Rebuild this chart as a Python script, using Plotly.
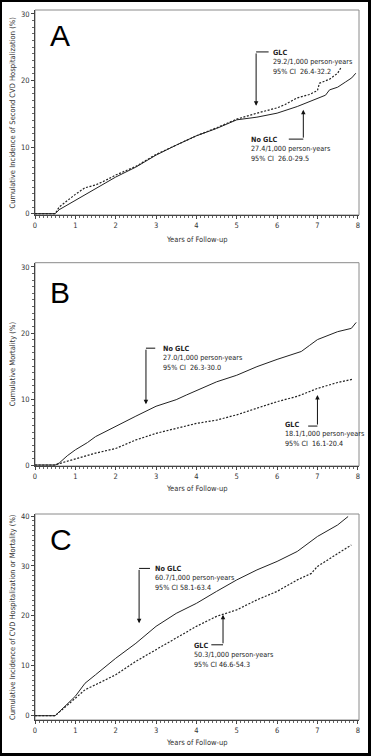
import plotly.graph_objects as go

W, H = 371, 756

# ---------------- data ----------------
A_x_glc = [0, 0.5, 0.6, 0.8, 1.0, 1.24, 1.5, 1.75, 2.0, 2.5, 3.0, 3.5, 4.0, 4.5, 5.0, 5.5, 6.0, 6.2, 6.5, 6.8, 7.0, 7.05, 7.3, 7.5, 7.58]
A_y_glc = [0, 0, 1.0, 2.0, 2.9, 3.9, 4.3, 5.0, 5.8, 7.1, 8.9, 10.3, 11.7, 12.9, 14.2, 15.1, 15.9, 16.4, 17.4, 17.9, 18.5, 19.6, 20.2, 21.1, 21.9]
A_x_noglc = [0, 0.5, 0.6, 0.8, 1.0, 1.24, 1.5, 2.0, 2.5, 3.0, 3.5, 4.0, 4.5, 5.0, 5.5, 6.0, 6.5, 7.0, 7.2, 7.3, 7.5, 7.7, 7.85, 7.95]
A_y_noglc = [0, 0, 0.6, 1.3, 2.0, 2.9, 3.8, 5.5, 7.0, 8.8, 10.3, 11.7, 12.8, 14.1, 14.5, 15.1, 16.1, 17.3, 17.8, 18.6, 19.0, 19.8, 20.4, 21.1]

B_x_noglc = [0, 0.5, 0.6, 0.8, 1.0, 1.3, 1.5, 2.0, 2.5, 3.0, 3.5, 3.75, 4.0, 4.5, 5.0, 5.5, 6.0, 6.5, 6.6, 6.8, 7.0, 7.5, 7.84, 7.96]
B_y_noglc = [0, 0, 0.3, 1.4, 2.3, 3.4, 4.3, 5.9, 7.4, 8.9, 9.9, 10.6, 11.3, 12.6, 13.6, 14.9, 16.0, 17.0, 17.2, 18.1, 19.0, 20.2, 20.7, 21.6]
B_x_glc = [0, 0.5, 0.7, 1.0, 1.5, 2.0, 2.5, 3.0, 3.5, 4.0, 4.5, 5.0, 5.5, 6.0, 6.5, 7.0, 7.5, 7.88]
B_y_glc = [0, 0, 0.4, 0.9, 1.8, 2.5, 3.8, 4.8, 5.6, 6.3, 6.8, 7.6, 8.6, 9.6, 10.4, 11.6, 12.5, 13.0]

C_x_noglc = [0, 0.5, 1.0, 1.24, 1.5, 2.0, 2.5, 3.0, 3.5, 4.0, 4.5, 5.0, 5.5, 6.0, 6.5, 7.0, 7.5, 7.76]
C_y_noglc = [0, 0, 3.9, 6.5, 8.2, 11.5, 14.5, 17.9, 20.5, 22.5, 24.9, 27.2, 29.2, 30.9, 32.9, 35.9, 38.2, 39.9]
C_x_glc = [0, 0.5, 1.0, 1.24, 1.5, 2.0, 2.5, 3.0, 3.5, 4.0, 4.5, 5.0, 5.5, 6.0, 6.5, 6.85, 7.0, 7.5, 7.84]
C_y_glc = [0, 0, 3.5, 5.2, 6.2, 8.2, 10.9, 13.2, 15.5, 17.9, 19.9, 21.2, 23.2, 24.9, 27.2, 28.5, 29.9, 32.5, 34.2]

panel_letters = ["A", "B", "C"]
y_titles = [
    "Cumulative Incidence of Second CVD Hospitalization (%)",
    "Cumulative Mortality (%)",
    "Cumulative Incidence of CVD Hospitalization or Mortality (%)",
]
x_title = "Years of Follow-up"
x_ticks = [0, 1, 2, 3, 4, 5, 6, 7, 8]
y_ticks_ab = [0, 10, 20, 30]
y_ticks_c = [0, 10, 20, 30, 40]

A_labels = {"GLC": ["GLC", "29.2/1,000 person-years", "95% CI  26.4-32.2"],
            "No GLC": ["No GLC", "27.4/1,000 person-years", "95% CI  26.0-29.5"]}
B_labels = {"GLC": ["GLC", "18.1/1,000 person-years", "95% CI  16.1-20.4"],
            "No GLC": ["No GLC", "27.0/1,000 person-years", "95% CI  26.3-30.0"]}
C_labels = {"GLC": ["GLC", "50.3/1,000 person-years", "95% CI 46.6-54.3"],
            "No GLC": ["No GLC", "60.7/1,000 person-years", "95% CI 58.1-63.4"]}

# ---------------- styling ----------------
FONT = "Liberation Sans Narrow, Arial Narrow, DejaVu Sans Condensed, Liberation Sans, Arial, sans-serif"
LINE_COL = "#222222"
FS = 7.5
FS_LAB = 7.2

fig = go.Figure()

def px_y(p):
    return (H - p) / H

def px_x(p):
    return p / W

panels = [
    dict(s="", xs=(A_x_glc, A_y_glc, A_x_noglc, A_y_noglc), yr=[-0.2, 30.6], dom=[px_y(215), px_y(10)],
         yt=y_ticks_ab, xtitle=239, labels=A_labels, letter_y=26.7,
         arrows=[("GLC", 5.48, 24.3, 16.2, 5.79, 5.84, 22.8),
                 ("No GLC", 6.65, 11.2, 15.6, 6.29, 5.30, 9.75)]),
    dict(s="2", xs=(B_x_glc, B_y_glc, B_x_noglc, B_y_noglc), yr=[-0.15, 30.65], dom=[px_y(466), px_y(262.7)],
         yt=y_ticks_ab, xtitle=489, labels=B_labels, letter_y=26.2,
         arrows=[("No GLC", 2.75, 17.7, 9.2, 2.98, 3.12, 16.2),
                 ("GLC", 7.0, 5.9, 10.6, 6.77, 6.14, 4.7)]),
    dict(s="3", xs=(C_x_glc, C_y_glc, C_x_noglc, C_y_noglc), yr=[-0.86, 40.4], dom=[px_y(720), px_y(514)],
         yt=y_ticks_c, xtitle=742, labels=C_labels, letter_y=35.3,
         arrows=[("No GLC", 2.58, 29.5, 18.5, 2.85, 2.93, 27.6),
                 ("GLC", 4.66, 14.2, 20.2, 4.37, 3.89, 12.2)]),
]

shapes = []
annotations = []
layout_axes = {}

for i, p in enumerate(panels):
    s = p["s"]
    xa, ya = "x" + s, "y" + s
    gx, gy, nx, ny = p["xs"]
    fig.add_trace(go.Scatter(x=nx, y=ny, mode="lines", xaxis=xa, yaxis=ya,
                             line=dict(color=LINE_COL, width=1), showlegend=False, hoverinfo="skip"))
    fig.add_trace(go.Scatter(x=gx, y=gy, mode="lines", xaxis=xa, yaxis=ya,
                             line=dict(color=LINE_COL, width=1.2, dash="2px,1.6px"), showlegend=False, hoverinfo="skip"))

    layout_axes["xaxis" + s] = dict(
        domain=[px_x(35), px_x(359)], range=[0, 8.03], anchor=ya,
        tickvals=x_ticks, ticks="outside", ticklen=3, tickcolor="#444",
        showline=True, linecolor="#444", linewidth=1, showgrid=False, zeroline=False,
        tickfont=dict(family=FONT, size=FS, color="#333"),
        minor=dict(dtick=0.1, ticks="outside", ticklen=2, tickcolor="#666", showgrid=False),
        automargin=False, fixedrange=True,
    )
    layout_axes["yaxis" + s] = dict(
        domain=p["dom"], range=p["yr"], anchor=xa,
        tickvals=p["yt"], ticks="outside", ticklen=3, tickcolor="#444",
        showline=True, linecolor="#444", linewidth=1, showgrid=False, zeroline=False,
        tickfont=dict(family=FONT, size=FS, color="#333"),
        minor=dict(dtick=1, ticks="outside", ticklen=2, tickcolor="#666", showgrid=False),
        automargin=False, fixedrange=True,
    )
    shapes.append(dict(type="rect", xref=xa + " domain", yref=ya + " domain", x0=0, x1=1, y0=0, y1=1,
                       line=dict(color="#8a8a8a", width=1), layer="below"))

    annotations.append(dict(x=0.33, y=p["letter_y"], xref=xa, yref=ya, text=panel_letters[i],
                            showarrow=False, xanchor="left", yanchor="middle",
                            font=dict(family="Liberation Sans, Arial, sans-serif", size=30, color="#000")))
    dom = p["dom"]
    annotations.append(dict(x=px_x(12), y=(dom[0] + dom[1]) / 2, xref="paper", yref="paper",
                            text=y_titles[i], textangle=-90, showarrow=False,
                            xanchor="center", yanchor="middle",
                            font=dict(family=FONT, size=FS, color="#333")))
    annotations.append(dict(x=(px_x(35) + px_x(359)) / 2, y=px_y(p["xtitle"]), xref="paper", yref="paper",
                            text=x_title, showarrow=False, xanchor="center", yanchor="middle",
                            font=dict(family=FONT, size=FS, color="#333")))

    for name, ax_x, tail_y, tip_y, hx, tx, ty in p["arrows"]:
        annotations.append(dict(x=ax_x, y=tip_y, ax=ax_x, ay=tail_y, xref=xa, yref=ya, axref=xa, ayref=ya,
                                text="", showarrow=True, arrowhead=2, arrowsize=0.9, arrowwidth=1,
                                arrowcolor="#111", standoff=0, startstandoff=0))
        shapes.append(dict(type="line", xref=xa, yref=ya, x0=min(ax_x, hx), x1=max(ax_x, hx),
                           y0=tail_y, y1=tail_y, line=dict(color="#111", width=1)))
        lines = p["labels"][name]
        txt = "<b>" + lines[0] + "</b><br>" + lines[1] + "<br>" + lines[2]
        annotations.append(dict(x=tx, y=ty, xref=xa, yref=ya, text=txt, showarrow=False,
                                xanchor="left", yanchor="middle", align="left",
                                font=dict(family=FONT, size=FS_LAB, color="#222")))

# outer black frame
for (x0, x1, y0, y1) in [(0, 2, 0, H), (W - 3, W, 0, H), (0, W, 0, 2), (0, W, H - 3, H)]:
    shapes.append(dict(type="rect", xref="paper", yref="paper",
                       x0=px_x(x0), x1=px_x(x1), y0=px_y(y1), y1=px_y(y0),
                       fillcolor="#000", line=dict(width=0)))

fig.update_layout(
    width=W, height=H, margin=dict(l=0, r=0, t=0, b=0),
    paper_bgcolor="white", plot_bgcolor="white",
    showlegend=False, shapes=shapes, annotations=annotations,
    **layout_axes,
)

fig.write_html("out.html", config={"displayModeBar": False})

# remove the browser's default page margin so the figure fills the window exactly
with open("out.html", "r", encoding="utf-8") as f:
    html = f.read()
html = html.replace("<head>", "<head><style>html,body{margin:0;padding:0;overflow:hidden;}</style>", 1)
with open("out.html", "w", encoding="utf-8") as f:
    f.write(html)
